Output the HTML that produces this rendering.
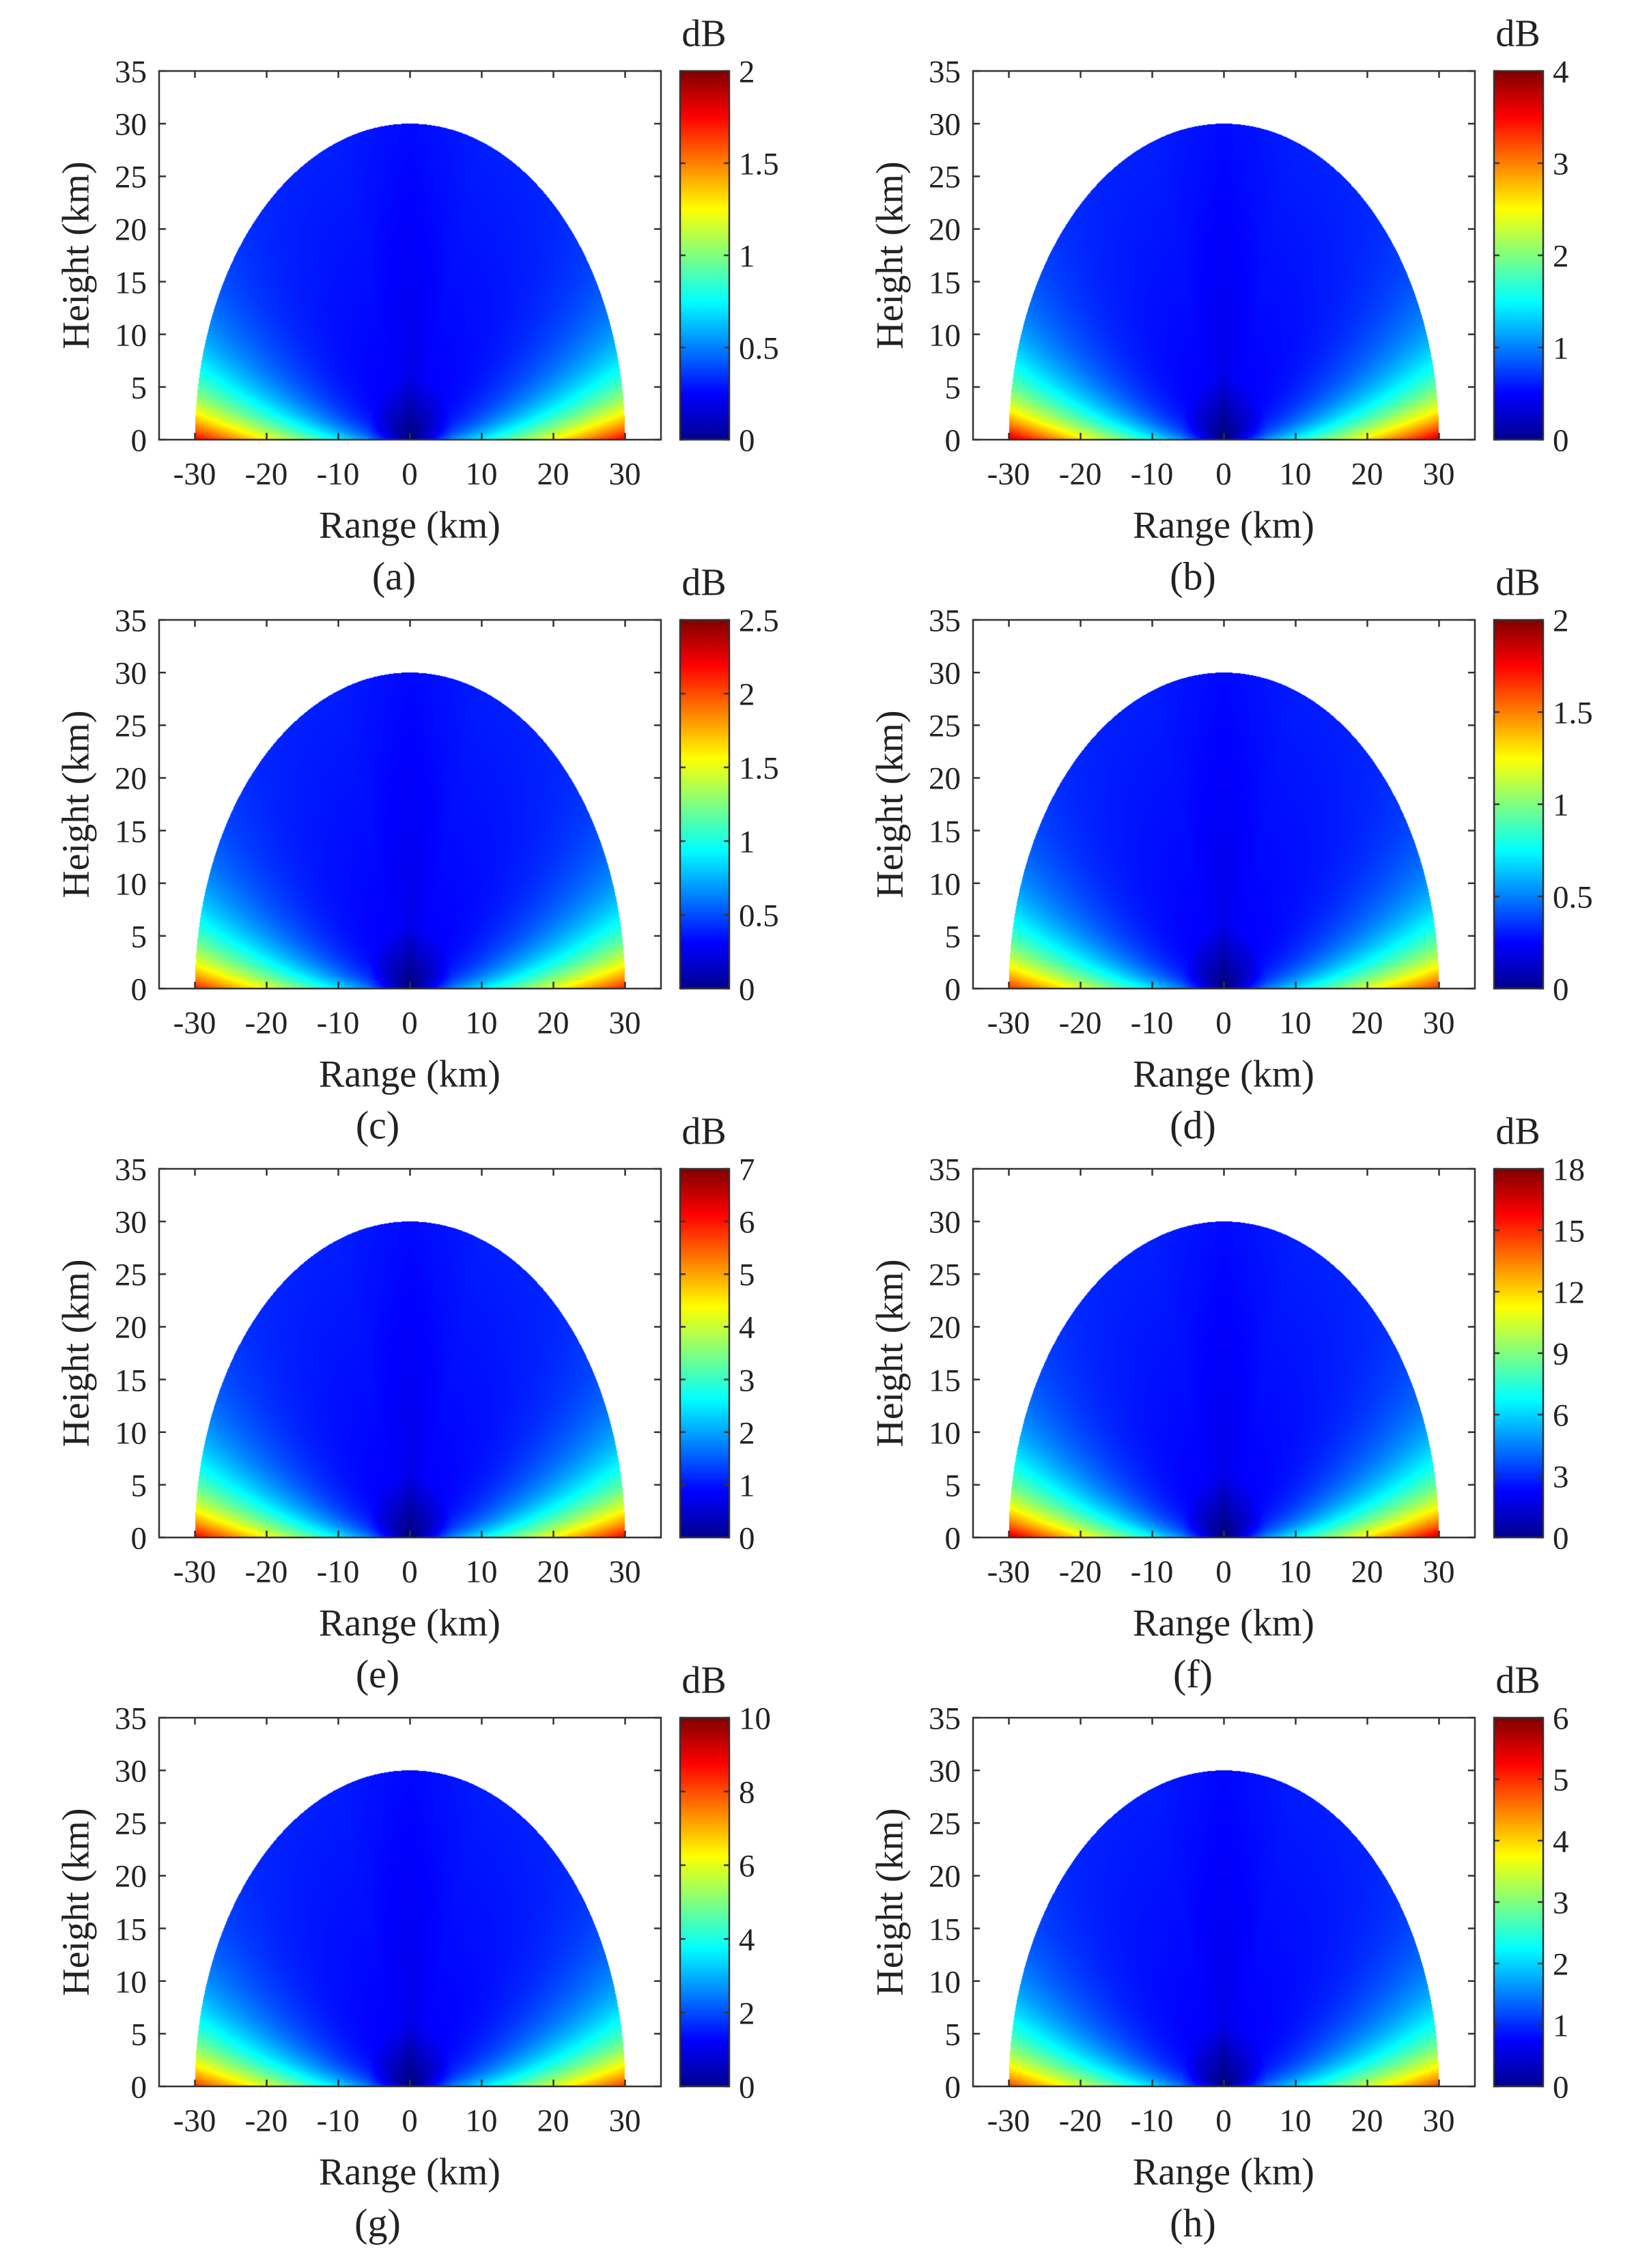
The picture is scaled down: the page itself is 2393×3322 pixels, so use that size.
<!DOCTYPE html>
<html><head><meta charset="utf-8">
<style>
html,body{margin:0;padding:0;background:#fff}
#wrap{position:relative;width:2393px;height:3322px;overflow:hidden}
canvas{position:absolute}
svg{position:absolute;left:0;top:0}
text{font-family:"Liberation Serif",serif;fill:#222}
.t{font-size:47px}
.l{font-size:56px}
.p{font-size:58px}
</style></head><body>
<div id="wrap">
<svg id="s" width="2393" height="3322" viewBox="0 0 2393 3322">
<defs><linearGradient id="jet" x1="0" y1="1" x2="0" y2="0">
<stop offset="0" stop-color="#00008f"/><stop offset="0.125" stop-color="#0000ff"/><stop offset="0.375" stop-color="#00ffff"/><stop offset="0.625" stop-color="#ffff00"/><stop offset="0.875" stop-color="#ff0000"/><stop offset="1" stop-color="#800000"/></linearGradient></defs>
<g id="lines"></g>

<!-- Panel (a) -->
<g transform="translate(0,0)">
<g class="t" text-anchor="end"><text x="215" y="644" dy="0.35em">0</text><text x="215" y="567" dy="0.35em">5</text><text x="215" y="490" dy="0.35em">10</text><text x="215" y="413" dy="0.35em">15</text><text x="215" y="335" dy="0.35em">20</text><text x="215" y="258" dy="0.35em">25</text><text x="215" y="181" dy="0.35em">30</text><text x="215" y="104" dy="0.35em">35</text></g>
<g class="t" text-anchor="middle"><text x="285" y="693" dy="0.35em">-30</text><text x="390" y="693" dy="0.35em">-20</text><text x="495" y="693" dy="0.35em">-10</text><text x="600" y="693" dy="0.35em">0</text><text x="705" y="693" dy="0.35em">10</text><text x="810" y="693" dy="0.35em">20</text><text x="915" y="693" dy="0.35em">30</text></g>
<text class="l" x="600" y="768" dy="0.35em" text-anchor="middle">Range (km)</text>
<text class="p" x="577" y="843" dy="0.35em" text-anchor="middle">(a)</text>
<text class="l" transform="translate(110,374) rotate(-90)" dy="0.35em" text-anchor="middle">Height (km)</text>
<text class="l" x="1031" y="48" dy="0.35em" text-anchor="middle">dB</text>
<g class="t"><text x="1082" y="644" dy="0.35em">0</text><text x="1082" y="509" dy="0.35em">0.5</text><text x="1082" y="374" dy="0.35em">1</text><text x="1082" y="239" dy="0.35em">1.5</text><text x="1082" y="104" dy="0.35em">2</text></g>
</g>

<!-- Panel (b) -->
<g transform="translate(1192,0)">
<g class="t" text-anchor="end"><text x="215" y="644" dy="0.35em">0</text><text x="215" y="567" dy="0.35em">5</text><text x="215" y="490" dy="0.35em">10</text><text x="215" y="413" dy="0.35em">15</text><text x="215" y="335" dy="0.35em">20</text><text x="215" y="258" dy="0.35em">25</text><text x="215" y="181" dy="0.35em">30</text><text x="215" y="104" dy="0.35em">35</text></g>
<g class="t" text-anchor="middle"><text x="285" y="693" dy="0.35em">-30</text><text x="390" y="693" dy="0.35em">-20</text><text x="495" y="693" dy="0.35em">-10</text><text x="600" y="693" dy="0.35em">0</text><text x="705" y="693" dy="0.35em">10</text><text x="810" y="693" dy="0.35em">20</text><text x="915" y="693" dy="0.35em">30</text></g>
<text class="l" x="600" y="768" dy="0.35em" text-anchor="middle">Range (km)</text>
<text class="p" x="555" y="843" dy="0.35em" text-anchor="middle">(b)</text>
<text class="l" transform="translate(110,374) rotate(-90)" dy="0.35em" text-anchor="middle">Height (km)</text>
<text class="l" x="1031" y="48" dy="0.35em" text-anchor="middle">dB</text>
<g class="t"><text x="1082" y="644" dy="0.35em">0</text><text x="1082" y="509" dy="0.35em">1</text><text x="1082" y="374" dy="0.35em">2</text><text x="1082" y="239" dy="0.35em">3</text><text x="1082" y="104" dy="0.35em">4</text></g>
</g>

<!-- Panel (c) -->
<g transform="translate(0,804)">
<g class="t" text-anchor="end"><text x="215" y="644" dy="0.35em">0</text><text x="215" y="567" dy="0.35em">5</text><text x="215" y="490" dy="0.35em">10</text><text x="215" y="413" dy="0.35em">15</text><text x="215" y="335" dy="0.35em">20</text><text x="215" y="258" dy="0.35em">25</text><text x="215" y="181" dy="0.35em">30</text><text x="215" y="104" dy="0.35em">35</text></g>
<g class="t" text-anchor="middle"><text x="285" y="693" dy="0.35em">-30</text><text x="390" y="693" dy="0.35em">-20</text><text x="495" y="693" dy="0.35em">-10</text><text x="600" y="693" dy="0.35em">0</text><text x="705" y="693" dy="0.35em">10</text><text x="810" y="693" dy="0.35em">20</text><text x="915" y="693" dy="0.35em">30</text></g>
<text class="l" x="600" y="768" dy="0.35em" text-anchor="middle">Range (km)</text>
<text class="p" x="553" y="843" dy="0.35em" text-anchor="middle">(c)</text>
<text class="l" transform="translate(110,374) rotate(-90)" dy="0.35em" text-anchor="middle">Height (km)</text>
<text class="l" x="1031" y="48" dy="0.35em" text-anchor="middle">dB</text>
<g class="t"><text x="1082" y="644" dy="0.35em">0</text><text x="1082" y="536" dy="0.35em">0.5</text><text x="1082" y="428" dy="0.35em">1</text><text x="1082" y="320" dy="0.35em">1.5</text><text x="1082" y="212" dy="0.35em">2</text><text x="1082" y="104" dy="0.35em">2.5</text></g>
</g>

<!-- Panel (d) -->
<g transform="translate(1192,804)">
<g class="t" text-anchor="end"><text x="215" y="644" dy="0.35em">0</text><text x="215" y="567" dy="0.35em">5</text><text x="215" y="490" dy="0.35em">10</text><text x="215" y="413" dy="0.35em">15</text><text x="215" y="335" dy="0.35em">20</text><text x="215" y="258" dy="0.35em">25</text><text x="215" y="181" dy="0.35em">30</text><text x="215" y="104" dy="0.35em">35</text></g>
<g class="t" text-anchor="middle"><text x="285" y="693" dy="0.35em">-30</text><text x="390" y="693" dy="0.35em">-20</text><text x="495" y="693" dy="0.35em">-10</text><text x="600" y="693" dy="0.35em">0</text><text x="705" y="693" dy="0.35em">10</text><text x="810" y="693" dy="0.35em">20</text><text x="915" y="693" dy="0.35em">30</text></g>
<text class="l" x="600" y="768" dy="0.35em" text-anchor="middle">Range (km)</text>
<text class="p" x="555" y="843" dy="0.35em" text-anchor="middle">(d)</text>
<text class="l" transform="translate(110,374) rotate(-90)" dy="0.35em" text-anchor="middle">Height (km)</text>
<text class="l" x="1031" y="48" dy="0.35em" text-anchor="middle">dB</text>
<g class="t"><text x="1082" y="644" dy="0.35em">0</text><text x="1082" y="509" dy="0.35em">0.5</text><text x="1082" y="374" dy="0.35em">1</text><text x="1082" y="239" dy="0.35em">1.5</text><text x="1082" y="104" dy="0.35em">2</text></g>
</g>

<!-- Panel (e) -->
<g transform="translate(0,1608)">
<g class="t" text-anchor="end"><text x="215" y="644" dy="0.35em">0</text><text x="215" y="567" dy="0.35em">5</text><text x="215" y="490" dy="0.35em">10</text><text x="215" y="413" dy="0.35em">15</text><text x="215" y="335" dy="0.35em">20</text><text x="215" y="258" dy="0.35em">25</text><text x="215" y="181" dy="0.35em">30</text><text x="215" y="104" dy="0.35em">35</text></g>
<g class="t" text-anchor="middle"><text x="285" y="693" dy="0.35em">-30</text><text x="390" y="693" dy="0.35em">-20</text><text x="495" y="693" dy="0.35em">-10</text><text x="600" y="693" dy="0.35em">0</text><text x="705" y="693" dy="0.35em">10</text><text x="810" y="693" dy="0.35em">20</text><text x="915" y="693" dy="0.35em">30</text></g>
<text class="l" x="600" y="768" dy="0.35em" text-anchor="middle">Range (km)</text>
<text class="p" x="553" y="843" dy="0.35em" text-anchor="middle">(e)</text>
<text class="l" transform="translate(110,374) rotate(-90)" dy="0.35em" text-anchor="middle">Height (km)</text>
<text class="l" x="1031" y="48" dy="0.35em" text-anchor="middle">dB</text>
<g class="t"><text x="1082" y="644" dy="0.35em">0</text><text x="1082" y="567" dy="0.35em">1</text><text x="1082" y="490" dy="0.35em">2</text><text x="1082" y="413" dy="0.35em">3</text><text x="1082" y="335" dy="0.35em">4</text><text x="1082" y="258" dy="0.35em">5</text><text x="1082" y="181" dy="0.35em">6</text><text x="1082" y="104" dy="0.35em">7</text></g>
</g>

<!-- Panel (f) -->
<g transform="translate(1192,1608)">
<g class="t" text-anchor="end"><text x="215" y="644" dy="0.35em">0</text><text x="215" y="567" dy="0.35em">5</text><text x="215" y="490" dy="0.35em">10</text><text x="215" y="413" dy="0.35em">15</text><text x="215" y="335" dy="0.35em">20</text><text x="215" y="258" dy="0.35em">25</text><text x="215" y="181" dy="0.35em">30</text><text x="215" y="104" dy="0.35em">35</text></g>
<g class="t" text-anchor="middle"><text x="285" y="693" dy="0.35em">-30</text><text x="390" y="693" dy="0.35em">-20</text><text x="495" y="693" dy="0.35em">-10</text><text x="600" y="693" dy="0.35em">0</text><text x="705" y="693" dy="0.35em">10</text><text x="810" y="693" dy="0.35em">20</text><text x="915" y="693" dy="0.35em">30</text></g>
<text class="l" x="600" y="768" dy="0.35em" text-anchor="middle">Range (km)</text>
<text class="p" x="555" y="843" dy="0.35em" text-anchor="middle">(f)</text>
<text class="l" transform="translate(110,374) rotate(-90)" dy="0.35em" text-anchor="middle">Height (km)</text>
<text class="l" x="1031" y="48" dy="0.35em" text-anchor="middle">dB</text>
<g class="t"><text x="1082" y="644" dy="0.35em">0</text><text x="1082" y="554" dy="0.35em">3</text><text x="1082" y="464" dy="0.35em">6</text><text x="1082" y="374" dy="0.35em">9</text><text x="1082" y="284" dy="0.35em">12</text><text x="1082" y="194" dy="0.35em">15</text><text x="1082" y="104" dy="0.35em">18</text></g>
</g>

<!-- Panel (g) -->
<g transform="translate(0,2412)">
<g class="t" text-anchor="end"><text x="215" y="644" dy="0.35em">0</text><text x="215" y="567" dy="0.35em">5</text><text x="215" y="490" dy="0.35em">10</text><text x="215" y="413" dy="0.35em">15</text><text x="215" y="335" dy="0.35em">20</text><text x="215" y="258" dy="0.35em">25</text><text x="215" y="181" dy="0.35em">30</text><text x="215" y="104" dy="0.35em">35</text></g>
<g class="t" text-anchor="middle"><text x="285" y="693" dy="0.35em">-30</text><text x="390" y="693" dy="0.35em">-20</text><text x="495" y="693" dy="0.35em">-10</text><text x="600" y="693" dy="0.35em">0</text><text x="705" y="693" dy="0.35em">10</text><text x="810" y="693" dy="0.35em">20</text><text x="915" y="693" dy="0.35em">30</text></g>
<text class="l" x="600" y="768" dy="0.35em" text-anchor="middle">Range (km)</text>
<text class="p" x="553" y="843" dy="0.35em" text-anchor="middle">(g)</text>
<text class="l" transform="translate(110,374) rotate(-90)" dy="0.35em" text-anchor="middle">Height (km)</text>
<text class="l" x="1031" y="48" dy="0.35em" text-anchor="middle">dB</text>
<g class="t"><text x="1082" y="644" dy="0.35em">0</text><text x="1082" y="536" dy="0.35em">2</text><text x="1082" y="428" dy="0.35em">4</text><text x="1082" y="320" dy="0.35em">6</text><text x="1082" y="212" dy="0.35em">8</text><text x="1082" y="104" dy="0.35em">10</text></g>
</g>

<!-- Panel (h) -->
<g transform="translate(1192,2412)">
<g class="t" text-anchor="end"><text x="215" y="644" dy="0.35em">0</text><text x="215" y="567" dy="0.35em">5</text><text x="215" y="490" dy="0.35em">10</text><text x="215" y="413" dy="0.35em">15</text><text x="215" y="335" dy="0.35em">20</text><text x="215" y="258" dy="0.35em">25</text><text x="215" y="181" dy="0.35em">30</text><text x="215" y="104" dy="0.35em">35</text></g>
<g class="t" text-anchor="middle"><text x="285" y="693" dy="0.35em">-30</text><text x="390" y="693" dy="0.35em">-20</text><text x="495" y="693" dy="0.35em">-10</text><text x="600" y="693" dy="0.35em">0</text><text x="705" y="693" dy="0.35em">10</text><text x="810" y="693" dy="0.35em">20</text><text x="915" y="693" dy="0.35em">30</text></g>
<text class="l" x="600" y="768" dy="0.35em" text-anchor="middle">Range (km)</text>
<text class="p" x="555" y="843" dy="0.35em" text-anchor="middle">(h)</text>
<text class="l" transform="translate(110,374) rotate(-90)" dy="0.35em" text-anchor="middle">Height (km)</text>
<text class="l" x="1031" y="48" dy="0.35em" text-anchor="middle">dB</text>
<g class="t"><text x="1082" y="644" dy="0.35em">0</text><text x="1082" y="554" dy="0.35em">1</text><text x="1082" y="464" dy="0.35em">2</text><text x="1082" y="374" dy="0.35em">3</text><text x="1082" y="284" dy="0.35em">4</text><text x="1082" y="194" dy="0.35em">5</text><text x="1082" y="104" dy="0.35em">6</text></g>
</g>
</svg>
</div>
<script>
(function(){
var wrap=document.getElementById('wrap');
var lines=document.getElementById('lines');
var NS='http://www.w3.org/2000/svg';
function jet(v){
  v=Math.max(0,Math.min(1,v));
  function c(x){return Math.max(0,Math.min(1,x));}
  var r=c(1.5-Math.abs(4*v-3)), g=c(1.5-Math.abs(4*v-2)), b=c(1.5-Math.abs(4*v-1));
  return [r*255,g*255,b*255];
}
var cbTicks=[[0,.25,.5,.75,1],[0,.25,.5,.75,1],[0,.2,.4,.6,.8,1],[0,.25,.5,.75,1],
 [0,1/7,2/7,3/7,4/7,5/7,6/7,1],[0,1/6,2/6,3/6,4/6,5/6,1],[0,.2,.4,.6,.8,1],[0,1/6,2/6,3/6,4/6,5/6,1]];
var gain=[1,1.05,0.95,0.93,1,1.05,0.92,0.9];
var L=233,R=968,T=104,B=644,W=R-L,H=B-T;
function draw(ctx,gn){
  var img=ctx.createImageData(W,H),d=img.data;
  for(var j=0;j<H;j++){
    var h=(B-(T+j+0.5))/H*35;
    for(var i=0;i<W;i++){
      var x=(i+0.5)/W*70-35;
      var k=(j*W+i)*4;
      if((x*x)/900+(h*h)/900>1||h<0){d[k+3]=0;continue;}
      var r=Math.sqrt(x*x+h*h);
      var th=Math.atan2(h,Math.abs(x))*180/Math.PI;
      var a=0.76*(r/30);
      var b=0.03+0.97*Math.exp(-th/11);
      var v=(a*b)*gn+0.115*Math.min(r/6,1)+0.015*Math.min(r/30,1);
      if(th>70) v-=0.02*(th-70)/20;
      var c=jet(v);
      d[k]=c[0];d[k+1]=c[1];d[k+2]=c[2];d[k+3]=255;
    }
  }
  ctx.putImageData(img,0,0);
}
function ln(x1,y1,x2,y2){var e=document.createElementNS(NS,'line');
 e.setAttribute('x1',x1);e.setAttribute('y1',y1);e.setAttribute('x2',x2);e.setAttribute('y2',y2);
 e.setAttribute('stroke','#333');e.setAttribute('stroke-width','2.5');lines.appendChild(e);}
for(var p=0;p<8;p++){
  var ox=(p%2)*1192, oy=Math.floor(p/2)*804;
  var cv=document.createElement('canvas');cv.width=W;cv.height=H;
  cv.style.left=(L+ox)+'px';cv.style.top=(T+oy)+'px';
  wrap.insertBefore(cv,wrap.firstChild);
  draw(cv.getContext('2d'),gain[p]);
  var rc=document.createElementNS(NS,'rect');
  rc.setAttribute('x',L+ox);rc.setAttribute('y',T+oy);rc.setAttribute('width',W);rc.setAttribute('height',H);
  rc.setAttribute('fill','none');rc.setAttribute('stroke','#333');rc.setAttribute('stroke-width','2.5');lines.appendChild(rc);
  for(var t=-30;t<=30;t+=10){var px=L+ox+(t+35)/70*W;ln(px,B+oy,px,B+oy-10);ln(px,T+oy,px,T+oy+10);}
  for(var t=0;t<=35;t+=5){var py=B+oy-t/35*H;ln(L+ox,py,L+ox+10,py);ln(R+ox,py,R+ox-10,py);}
  var cb=document.createElementNS(NS,'rect');
  cb.setAttribute('x',996+ox);cb.setAttribute('y',T+oy);cb.setAttribute('width',72);cb.setAttribute('height',H);
  cb.setAttribute('fill','url(#jet)');cb.setAttribute('stroke','#333');cb.setAttribute('stroke-width','2.5');lines.appendChild(cb);
  cbTicks[p].forEach(function(f){var py=B+oy-f*H;ln(996+ox,py,1004+ox,py);ln(1068+ox,py,1060+ox,py);});
}
})();
</script>
</body></html>
